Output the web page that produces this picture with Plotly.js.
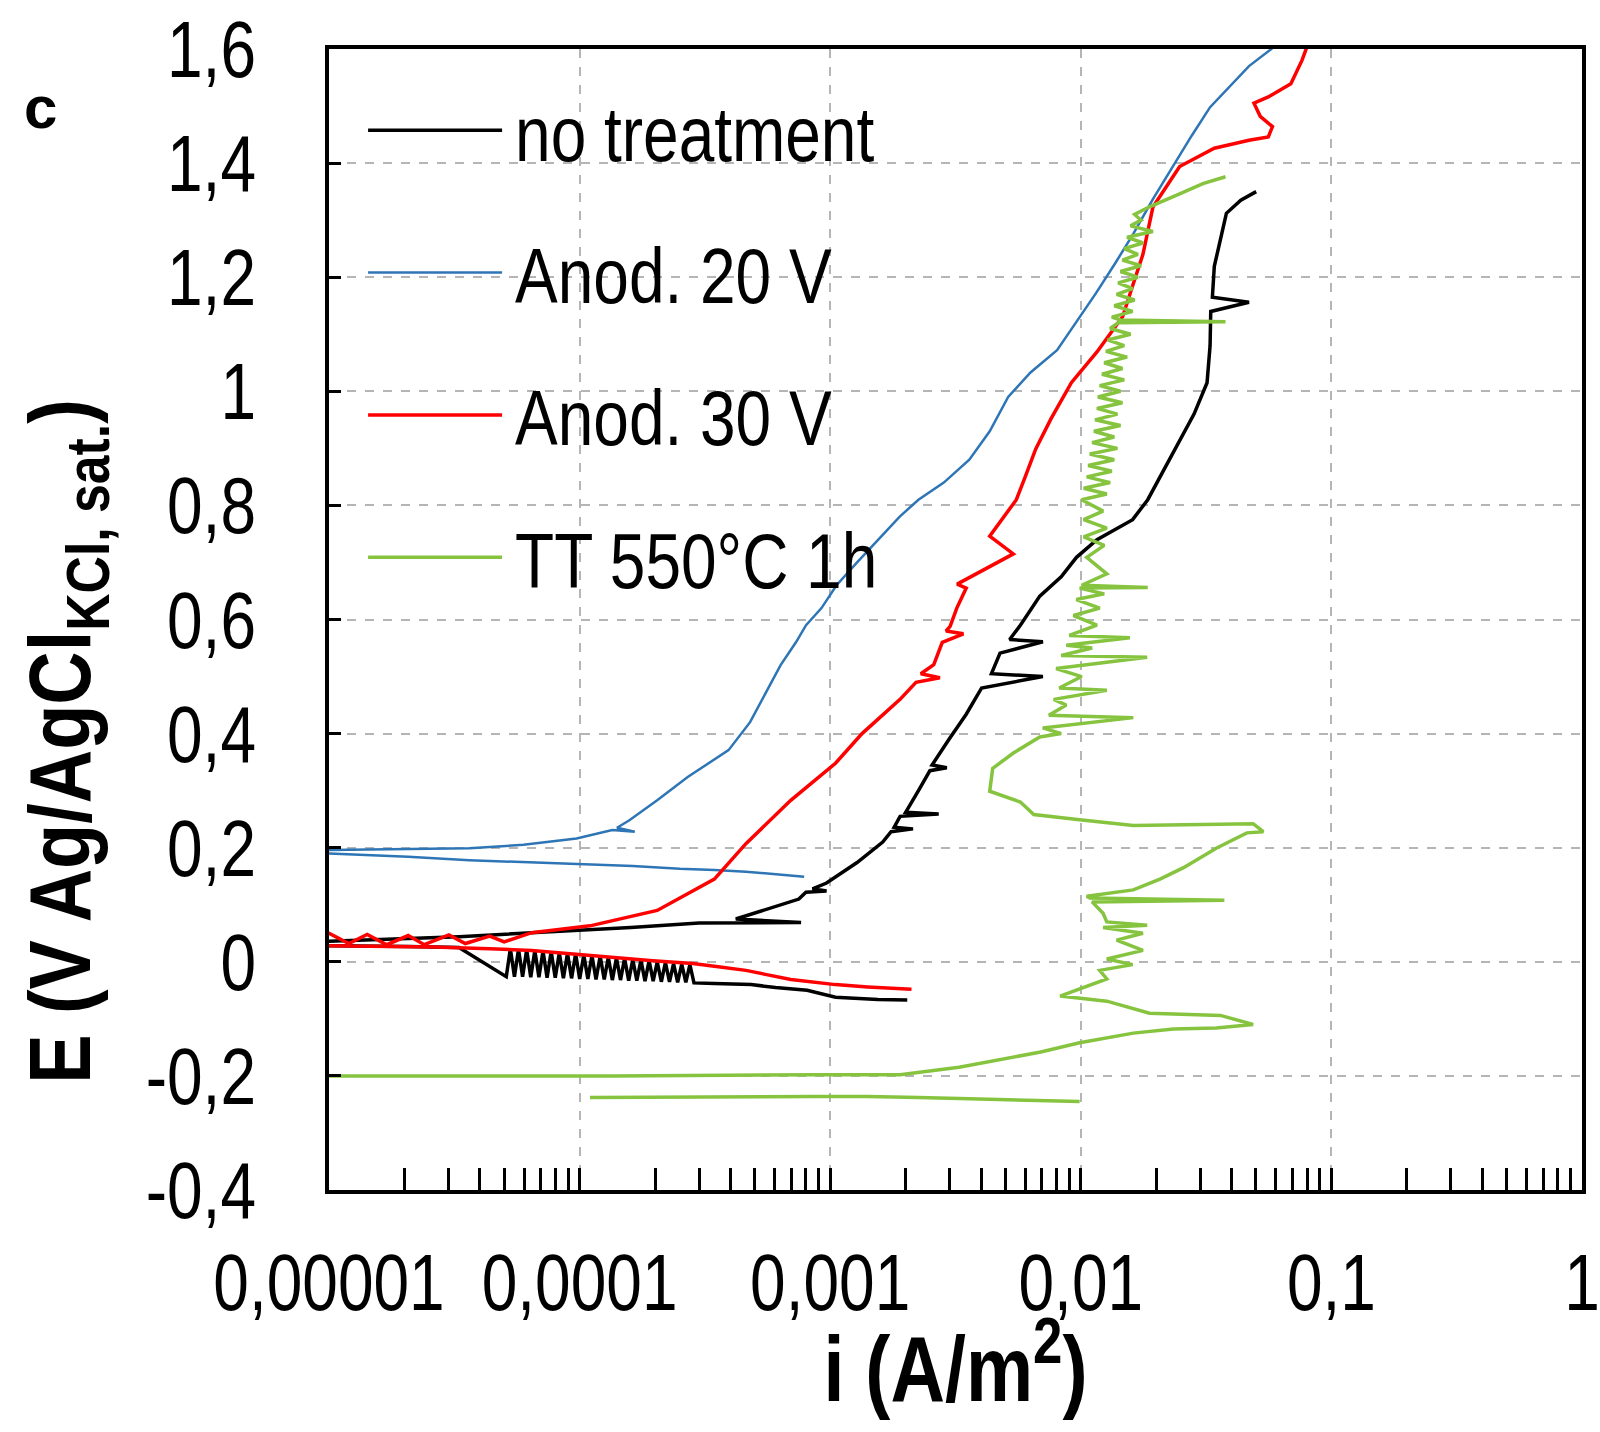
<!DOCTYPE html>
<html>
<head>
<meta charset="utf-8">
<script src="https://cdn.plot.ly/plotly-3.0.1.min.js"></script>
<style>
  html, body { margin: 0; padding: 0; background: #ffffff; }
  #chart { width: 1600px; height: 1432px; }
</style>
</head>
<body>
<div id="chart"></div>
<script>
// ---------- data (i in A/m², E in V Ag/AgCl) ----------
const seriesNames = ['no treatment', 'Anod. 20 V', 'Anod. 30 V', 'TT 550°C 1h'];
const seriesColors = ['#000000', '#2e75b6', '#ff0000', '#86c440'];

const iNoTreatment = [2.03e-3, 1.55e-3, 1.05e-3, 8.09e-4, 6.05e-4, 4.83e-4, 3.45e-4,
  2.860e-4, 2.755e-4, 2.654e-4, 2.556e-4, 2.462e-4, 2.371e-4, 2.284e-4, 2.200e-4, 2.119e-4, 2.041e-4, 1.966e-4, 1.894e-4, 1.824e-4, 1.757e-4, 1.692e-4, 1.630e-4, 1.570e-4, 1.512e-4, 1.456e-4, 1.403e-4, 1.351e-4, 1.302e-4, 1.254e-4, 1.208e-4, 1.163e-4, 1.120e-4, 1.079e-4, 1.039e-4, 1.001e-4, 9.642e-5, 9.287e-5, 8.945e-5, 8.616e-5, 8.299e-5, 7.994e-5, 7.700e-5, 7.417e-5, 7.144e-5, 6.881e-5, 6.628e-5, 6.384e-5, 6.149e-5, 5.923e-5, 5.705e-5, 5.495e-5, 5.293e-5, 5.098e-5,
  3.3e-5, 2.07e-5, 1.0e-5, 5e-6,
  5e-6, 1.0e-5, 3.3e-5, 9.3e-5, 1.6e-4, 3.0e-4, 7.65e-4, 4.2e-4, 5.2e-4, 6.65e-4, 7.5e-4, 8.0e-4, 9.67e-4, 8.5e-4, 9.67e-4, 1.28e-3, 1.62e-3, 1.75e-3, 2.14e-3, 1.8e-3, 1.90e-3, 2.71e-3, 2.0e-3, 2.25e-3, 2.5e-3, 2.92e-3, 2.55e-3, 2.98e-3, 3.49e-3, 4.02e-3, 7.06e-3, 4.4e-3, 4.76e-3, 7.06e-3, 5.2e-3, 5.74e-3, 6.86e-3, 8.35e-3, 9.61e-3, 1.16e-2, 1.40e-2, 1.61e-2, 1.85e-2, 2.13e-2, 2.45e-2, 2.83e-2, 3.19e-2, 3.28e-2, 3.3e-2, 4.69e-2, 3.35e-2, 3.41e-2, 3.81e-2, 4.35e-2, 5.01e-2];
const eNoTreatment = [-0.067, -0.066, -0.062, -0.050, -0.045, -0.040, -0.038,
  -0.037, -0.005, -0.036, -0.004, -0.036, -0.003, -0.035, -0.001, -0.035, 0.000, -0.034, 0.002, -0.034, 0.003, -0.033, 0.004, -0.033, 0.006, -0.032, 0.007, -0.032, 0.008, -0.031, 0.010, -0.031, 0.011, -0.030, 0.012, -0.030, 0.014, -0.029, 0.015, -0.029, 0.016, -0.028, 0.018, -0.028, 0.019, -0.027, 0.020, -0.027, 0.021, -0.026, 0.022, -0.026, 0.023, -0.026,
  0.025, 0.027, 0.028, 0.030,
  0.036, 0.036, 0.044, 0.054, 0.060, 0.068, 0.069, 0.075, 0.088, 0.103, 0.110, 0.122, 0.124, 0.128, 0.138, 0.174, 0.210, 0.228, 0.233, 0.236, 0.255, 0.259, 0.262, 0.300, 0.335, 0.340, 0.345, 0.390, 0.434, 0.480, 0.500, 0.505, 0.541, 0.561, 0.565, 0.590, 0.641, 0.675, 0.709, 0.740, 0.760, 0.775, 0.810, 0.860, 0.910, 0.960, 1.015, 1.080, 1.140, 1.156, 1.165, 1.219, 1.312, 1.335, 1.350];

const iAnod20 = [7.87e-4, 6.05e-4, 4.61e-4, 3.45e-4, 2.51e-4, 1.63e-4, 9.02e-5, 5.3e-5, 3.63e-5, 2.07e-5, 1.0e-5, 5e-6,
  5e-6, 1.0e-5, 3.63e-5, 5.97e-5, 9.72e-5, 1.35e-4, 1.66e-4, 1.41e-4, 1.58e-4, 2.04e-4, 2.70e-4, 3.93e-4, 4.79e-4, 5.51e-4, 6.34e-4, 7.30e-4, 8.01e-4, 9.23e-4, 1.06e-3, 1.28e-3, 1.55e-3, 1.89e-3, 2.25e-3, 2.84e-3, 3.59e-3, 4.33e-3, 5.13e-3, 6.30e-3, 8.04e-3, 9.61e-3, 1.15e-2, 1.37e-2, 1.62e-2, 1.94e-2, 2.32e-2, 2.77e-2, 3.28e-2, 3.92e-2, 4.69e-2, 5.76e-2, 6.5e-2];
const eAnod20 = [0.149, 0.153, 0.158, 0.161, 0.163, 0.168, 0.172, 0.175, 0.178, 0.184, 0.190, 0.192,
  0.196, 0.196, 0.199, 0.205, 0.216, 0.231, 0.228, 0.235, 0.248, 0.283, 0.324, 0.371, 0.420, 0.470, 0.520, 0.560, 0.590, 0.620, 0.660, 0.700, 0.740, 0.780, 0.810, 0.840, 0.880, 0.930, 0.990, 1.033, 1.072, 1.122, 1.172, 1.224, 1.276, 1.337, 1.394, 1.448, 1.498, 1.534, 1.570, 1.600, 1.630];

const iAnod30 = [2.11e-3, 1.70e-3, 1.41e-3, 1.05e-3, 8.80e-4, 6.96e-4, 5.51e-4, 4.61e-4, 3.45e-4, 2.83e-4, 1.96e-4, 1.35e-4, 9.3e-5, 6.44e-5, 4.38e-5, 2.62e-5, 1.0e-5, 5e-6,
  5e-6, 1.0e-5, 1.2e-5, 1.42e-5, 1.7e-5, 2.07e-5, 2.4e-5, 3.01e-5, 3.5e-5, 4.38e-5, 5.0e-5, 6.44e-5, 1.10e-4, 2.04e-4, 3.45e-4, 4.61e-4, 6.96e-4, 1.05e-3, 1.34e-3, 1.90e-3, 2.2e-3, 2.74e-3, 2.3e-3, 2.59e-3, 2.8e-3, 3.40e-3, 2.9e-3, 3.01e-3, 3.2e-3, 3.49e-3, 3.21e-3, 5.38e-3, 4.33e-3, 5.53e-3, 6.0e-3, 6.61e-3, 7.61e-3, 9.17e-3, 1.16e-2, 1.47e-2, 1.61e-2, 1.77e-2, 1.94e-2, 2.48e-2, 3.41e-2, 4.69e-2, 5.60e-2, 5.82e-2, 5.20e-2, 4.91e-2, 5.60e-2, 6.89e-2, 7.63e-2, 7.93e-2, 8.2e-2];
const eAnod30 = [-0.048, -0.046, -0.044, -0.040, -0.036, -0.031, -0.022, -0.015, -0.008, -0.003, 0.002, 0.008, 0.014, 0.020, 0.023, 0.026, 0.028, 0.030,
  0.048, 0.050, 0.032, 0.048, 0.030, 0.046, 0.030, 0.047, 0.032, 0.045, 0.035, 0.051, 0.063, 0.090, 0.145, 0.207, 0.283, 0.348, 0.400, 0.460, 0.490, 0.498, 0.505, 0.521, 0.560, 0.575, 0.580, 0.588, 0.620, 0.655, 0.662, 0.715, 0.746, 0.810, 0.850, 0.899, 0.952, 1.015, 1.069, 1.131, 1.185, 1.240, 1.323, 1.394, 1.426, 1.440, 1.446, 1.464, 1.482, 1.505, 1.516, 1.539, 1.580, 1.600, 1.630];

const iTT550 = [9.89e-3, 5.74e-3, 3.59e-3, 2.25e-3, 1.41e-3, 8.80e-4, 3.45e-4, 1.10e-4, null,
  5e-6, 1.0e-5, 1.35e-4, 8.80e-4, 1.90e-3, 3.27e-3, 4.76e-3, 6.92e-3, 9.89e-3, 1.62e-2, 2.34e-2, 3.47e-2, 4.87e-2, 3.61e-2, 1.88e-2, 1.27e-2, 8.27e-3, 1.056e-2, 1.27e-2, 1.19e-2, 1.61e-2, 1.27e-2, 1.77e-2, 1.39e-2, 1.77e-2, 1.227e-2, 1.84e-2, 1.27e-2, 1.227e-2, 1.11e-2, 3.74e-2, 1.086e-2, 1.056e-2, 1.62e-2, 2.07e-2, 2.57e-2, 3.47e-2, 4.60e-2, 5.35e-2, 4.87e-2, 1.62e-2, 9.89e-3, 6.49e-3, 5.74e-3, 4.33e-3, 4.45e-3, 5.38e-3, 6.86e-3, 8.35e-3, 7.05e-3, 1.62e-2, 7.46e-3, 8.75e-3, 7.8e-3, 1.27e-2, 8.2e-3, 1.008e-2, 7.97e-3, 1.84e-2, 8.35e-3, 1.11e-2, 8.75e-3, 1.57e-2, 9.0e-3, 1.16e-2, 9.35e-3, 1.19e-2, 9.6e-3, 1.24e-2, 9.89e-3, 1.85e-2, 1.008e-2, 1.27e-2, 1.056e-2, 1.24e-2, 1.027e-2, 1.27e-2, 1.027e-2, 1.227e-2,
  1.008e-2, 1.27e-2, 1.027e-2, 1.31e-2, 1.056e-2, 1.33e-2, 1.07e-2, 1.36e-2, 1.086e-2, 1.40e-2, 1.11e-2, 1.36e-2, 1.128e-2, 1.44e-2, 1.14e-2, 1.40e-2, 1.16e-2, 1.466e-2, 1.17e-2, 1.44e-2, 1.19e-2, 1.49e-2, 1.215e-2, 1.466e-2, 1.24e-2, 1.53e-2, 1.26e-2, 1.49e-2, 1.28e-2, 1.58e-2, 1.31e-2, 1.41e-2, 3.78e-2, 1.44e-2, 1.33e-2, 1.61e-2, 1.36e-2, 1.64e-2, 1.39e-2, 1.61e-2, 1.41e-2, 1.69e-2, 1.44e-2, 1.74e-2, 1.466e-2, 1.69e-2, 1.49e-2, 1.77e-2, 1.53e-2, 1.94e-2, 1.58e-2, 1.74e-2, 1.64e-2, 1.87e-2, 2.48e-2, 3.07e-2, 3.78e-2];
const eTT550 = [-0.245, -0.243, -0.240, -0.238, -0.236, -0.236, -0.237, -0.238, null,
  -0.200, -0.200, -0.200, -0.198, -0.198, -0.185, -0.172, -0.158, -0.142, -0.125, -0.118, -0.116, -0.110, -0.094, -0.090, -0.069, -0.060, -0.042, -0.030, -0.015, -0.005, 0.005, 0.020, 0.038, 0.050, 0.060, 0.064, 0.070, 0.085, 0.105, 0.108, 0.112, 0.115, 0.126, 0.145, 0.165, 0.199, 0.226, 0.228, 0.242, 0.239, 0.249, 0.258, 0.280, 0.299, 0.339, 0.366, 0.394, 0.400, 0.410, 0.428, 0.432, 0.450, 0.460, 0.476, 0.480, 0.500, 0.514, 0.534, 0.537, 0.550, 0.555, 0.568, 0.572, 0.590, 0.607, 0.620, 0.635, 0.645, 0.655, 0.656, 0.660, 0.680, 0.709, 0.730, 0.745, 0.760, 0.775, 0.790,
  0.810, 0.820, 0.830, 0.840, 0.850, 0.860, 0.870, 0.880, 0.890, 0.900, 0.910, 0.920, 0.930, 0.940, 0.950, 0.960, 0.970, 0.980, 0.990, 1.000, 1.010, 1.020, 1.030, 1.040, 1.050, 1.060, 1.070, 1.080, 1.090, 1.100, 1.110, 1.120, 1.122, 1.125, 1.130, 1.140, 1.150, 1.160, 1.170, 1.180, 1.190, 1.200, 1.210, 1.220, 1.230, 1.240, 1.250, 1.260, 1.270, 1.280, 1.290, 1.300, 1.310, 1.323, 1.346, 1.364, 1.376];

const xTickVals = [1e-5, 1e-4, 1e-3, 1e-2, 1e-1, 1];
const xTickText = ['0,00001', '0,0001', '0,001', '0,01', '0,1', '1'];
const yTickVals = [-0.4, -0.2, 0, 0.2, 0.4, 0.6, 0.8, 1.0, 1.2, 1.4, 1.6];
const yTickText = ['-0,4', '-0,2', '0', '0,2', '0,4', '0,6', '0,8', '1', '1,2', '1,4', '1,6'];

// ---------- chart ----------
const FONT = 'Liberation Sans, Arial, sans-serif';
const xs = [iNoTreatment, iAnod20, iAnod30, iTT550];
const ys = [eNoTreatment, eAnod20, eAnod30, eTT550];
const widths = [3.5, 2.5, 3.5, 3.5];

const traces = seriesNames.map((name, k) => ({
  type: 'scatter',
  mode: 'lines',
  name: name,
  legendgroup: 'g' + k,
  x: xs[k],
  y: ys[k],
  connectgaps: false,
  line: { color: seriesColors[k], width: widths[k] },
  hoverinfo: 'x+y+name'
}));

const layout = {
  width: 1600,
  height: 1432,
  margin: { l: 329, r: 18, t: 49, b: 242 },
  paper_bgcolor: '#ffffff',
  plot_bgcolor: '#ffffff',
  font: { family: FONT, color: '#000000' },
  showlegend: true,
  legend: {
    x: 0.0272, y: 0.979, xanchor: 'left', yanchor: 'top',
    bgcolor: 'rgba(0,0,0,0)', borderwidth: 0,
    font: { family: FONT, size: 78, color: '#000000' },
    itemwidth: 134,
    traceorder: 'grouped',
    tracegroupgap: 38
  },
  xaxis: {
    type: 'log',
    range: [-5, 0],
    tickmode: 'array',
    tickvals: xTickVals,
    ticktext: xTickText,
    tickangle: 0,
    ticklabeloverflow: 'allow',
    ticks: 'inside', ticklen: 22, tickwidth: 3, tickcolor: '#000000',
    minor: { ticks: 'inside', ticklen: 22, tickwidth: 3, tickcolor: '#000000', dtick: 'D1', showgrid: false },
    showgrid: true, gridcolor: '#b5b5b5', gridwidth: 2, griddash: 'dash',
    showline: true, linecolor: '#000000', linewidth: 4, mirror: true,
    zeroline: false,
    tickfont: { family: FONT, size: 80, color: '#000000' },
    ticklabelstandoff: 20,
    title: { text: '<b>i (A/m<sup>2</sup>)</b>', font: { family: FONT, size: 92, color: '#000000' }, standoff: 4 }
  },
  yaxis: {
    range: [-0.4, 1.6],
    tickmode: 'array',
    tickvals: yTickVals,
    ticktext: yTickText,
    tickangle: 0,
    ticks: 'inside', ticklen: 12, tickwidth: 3, tickcolor: '#000000',
    showgrid: true, gridcolor: '#b5b5b5', gridwidth: 2, griddash: 'dash',
    showline: true, linecolor: '#000000', linewidth: 4, mirror: true,
    zeroline: false,
    tickfont: { family: FONT, size: 80, color: '#000000' },
    ticklabelstandoff: 53,
    title: { text: '<b>E (V Ag/AgCl<sub>KCl, sat.</sub>)</b>', font: { family: FONT, size: 88, color: '#000000' }, standoff: 30 }
  },
  annotations: [{
    text: '<b>c</b>', xref: 'paper', yref: 'paper', x: -0.2306, y: 0.949,
    xanchor: 'center', yanchor: 'middle', showarrow: false,
    font: { family: FONT, size: 60, color: '#000000' }
  }]
};

// The reference uses a narrow face; condense the labels horizontally to match it.
function condense(gd) {
  const groups = [
    ['.xtick text', 0.8],
    ['.ytick text', 0.8],
    ['.legendtext', 0.82],
    ['.g-xtitle text', 0.82],
    ['.g-ytitle text', 0.84]
  ];
  groups.forEach(([sel, f]) => {
    gd.querySelectorAll(sel).forEach(t => {
      const L = t.getComputedTextLength();
      if (L > 0) {
        t.setAttribute('textLength', (L * f).toFixed(1));
        t.setAttribute('lengthAdjust', 'spacingAndGlyphs');
      }
    });
  });
  // small gap between legend sample line and its label, as in the reference
  gd.querySelectorAll('.legendtext').forEach(t => {
    t.setAttribute('x', (parseFloat(t.getAttribute('x') || '0') + 8).toFixed(1));
  });
  // title placement as in the reference
  const yt = gd.querySelector('.g-ytitle');
  if (yt) yt.setAttribute('transform', 'translate(31,122)');
  const xt = gd.querySelector('.g-xtitle');
  if (xt) xt.setAttribute('transform', 'translate(0,8)');
}

Plotly.newPlot('chart', traces, layout, { displayModeBar: false, staticPlot: true })
  .then(gd => condense(gd));
</script>
</body>
</html>
